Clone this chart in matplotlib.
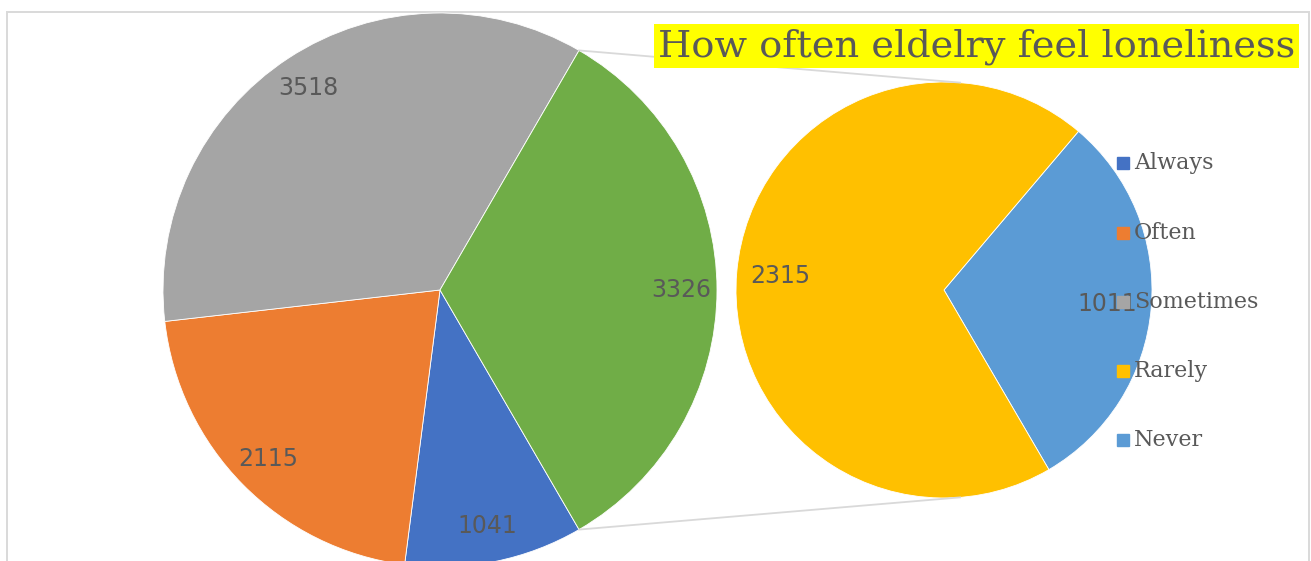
import numpy as np
import matplotlib.pyplot as plt
from matplotlib.patches import Rectangle

# loneliness survey counts
categories = ['Always', 'Often', 'Sometimes', 'Rarely', 'Never']
counts = [1041, 2115, 3518, 2315, 1011]
colors = ['#4472C4', '#ED7D31', '#A5A5A5', '#FFC000', '#5B9BD5']
other_color = '#70AD47'
title = 'How often eldelry feel loneliness'

W, H = 1311, 561
fig = plt.figure(figsize=(W / 100, H / 100), dpi=100)
ax = fig.add_axes([0, 0, 1, 1])

grey_txt = '#595959'
line_col = '#D9D9D9'

# chart border
ax.add_patch(Rectangle((7, -20), 1302, H - 12 + 20, fill=False,
                       edgecolor=line_col, linewidth=1.4, zorder=0))

# main pie: Always, Often, Sometimes and the combined "other" slice
main_vals = counts[:3] + [counts[3] + counts[4]]
main_cols = colors[:3] + [other_color]
other_span = main_vals[3] / sum(main_vals) * 360
start = -other_span / 2
c1, r1 = (440, 271), 277
w1, _ = ax.pie(main_vals, colors=main_cols, startangle=start, counterclock=False,
               center=c1, radius=r1, frame=True,
               wedgeprops=dict(edgecolor='white', linewidth=0.6))

# secondary pie: Rarely and Never split out of the other slice
sub_vals = [counts[4], counts[3]]
sub_cols = [colors[4], colors[3]]
start2 = -5 - sub_vals[0] / sum(sub_vals) * 360 / 2
c2, r2 = (944, 271), 208
w2, _ = ax.pie(sub_vals, colors=sub_cols, startangle=start2, counterclock=True,
               center=c2, radius=r2, frame=True,
               wedgeprops=dict(edgecolor='white', linewidth=0.6))


def put_labels(wedges, vals, c, r, dist):
    for w, v in zip(wedges, vals):
        mid = np.deg2rad((w.theta1 + w.theta2) / 2)
        ax.text(c[0] + dist * r * np.cos(mid), c[1] + dist * r * np.sin(mid), str(v),
                ha='center', va='center', fontsize=17, color=grey_txt, zorder=5)


put_labels(w1, main_vals, c1, r1, 0.87)
put_labels(w2, sub_vals, c2, r2, 0.79)

# connector lines from the edges of the other slice to the secondary pie
dx = 16
dy = np.sqrt(r2 ** 2 - dx ** 2)
for ang, sgn in [(start + other_span, 1), (start, -1)]:
    a = np.deg2rad(ang)
    ax.plot([c1[0] + r1 * np.cos(a), c2[0] + dx],
            [c1[1] + r1 * np.sin(a), c2[1] + sgn * dy],
            color=line_col, linewidth=1.3, zorder=1)

# title with yellow highlight
ax.text(658, H - 56, title, ha='left', va='baseline', fontsize=27.5,
        family='DejaVu Serif', color=grey_txt, zorder=6,
        bbox=dict(boxstyle='square,pad=0.1', facecolor='#FFFF00', edgecolor='none'))

# legend
leg_y = [163, 233, 302, 371, 440]
for name, col, y in zip(categories, colors, leg_y):
    ax.plot(1123, H - y, marker='s', markersize=8.5, color=col, zorder=7)
    ax.text(1134, H - y, name, ha='left', va='center', fontsize=16,
            family='DejaVu Serif', color=grey_txt, zorder=7)

ax.set_xlim(0, W)
ax.set_ylim(0, H)
ax.axis('off')
fig.savefig('out.png', dpi=100)
